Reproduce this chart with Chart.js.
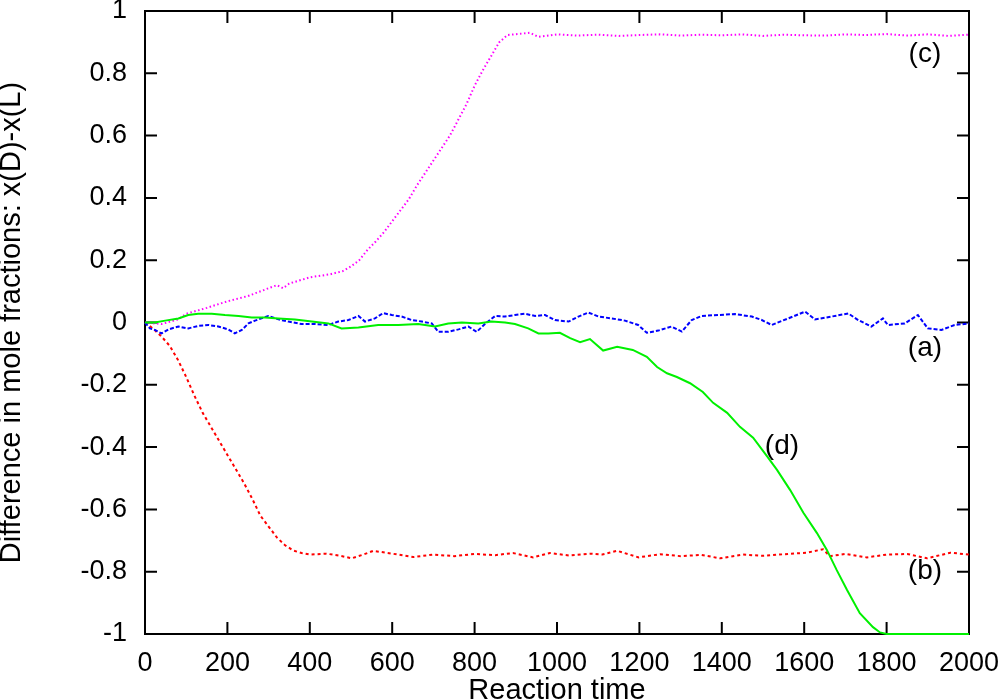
<!DOCTYPE html>
<html>
<head>
<meta charset="utf-8">
<script src="https://cdn.jsdelivr.net/npm/chart.js@4"></script>
<style>
  body { margin: 0; background: #fff; }
  #wrap { width: 1000px; height: 700px; }
</style>
</head>
<body>
<div id="wrap"><canvas id="mole-chart" width="1000" height="700"></canvas></div>
<script>
//================================ DATA ================================

// (a) blue
var time_a = [0,12,24,40,57,81,105,129,154,178,202,218,235,251,267,299,324,348,380,413,445,469,494,518,534,558,578,599,623,647,672,696,712,736,761,785,805,825,850,874,898,922,947,971,995,1028,1052,1076,1101,1133,1165,1197,1218,1246,1278,1303,1327,1351,1391,1432,1473,1497,1521,1561,1602,1626,1666,1707,1731,1763,1791,1803,1844,1876,1900,1933,1965,2000];
var diff_a = [0,-0.019,-0.024,-0.035,-0.022,-0.013,-0.019,-0.011,-0.008,-0.013,-0.022,-0.035,-0.024,-0.003,0.006,0.021,0.010,0.003,-0.005,-0.005,-0.008,0.003,0.008,0.021,0.003,0.013,0.030,0.024,0.019,0.008,0.003,-0.003,-0.030,-0.030,-0.022,-0.013,-0.030,-0.005,0.021,0.019,0.024,0.028,0.021,0.024,0.008,0.003,0.019,0.032,0.019,0.013,0.006,-0.008,-0.033,-0.026,-0.013,-0.029,0.008,0.021,0.024,0.027,0.019,0.008,-0.008,0.013,0.035,0.010,0.019,0.029,0.008,-0.013,0.013,-0.008,-0.003,0.024,-0.019,-0.024,-0.008,-0.003];

// (b) red
var time_b = [0,20,40,60,80,100,120,140,160,180,200,220,240,260,280,300,320,340,360,380,400,440,470,502,530,554,600,651,700,750,800,850,893,942,983,1030,1080,1110,1146,1198,1250,1300,1350,1396,1450,1500,1550,1606,1646,1662,1700,1752,1800,1850,1898,1955,2000];
var diff_b = [0,-0.02,-0.045,-0.075,-0.12,-0.175,-0.235,-0.29,-0.335,-0.38,-0.425,-0.47,-0.515,-0.565,-0.62,-0.655,-0.69,-0.715,-0.732,-0.74,-0.745,-0.742,-0.748,-0.757,-0.745,-0.733,-0.742,-0.753,-0.745,-0.75,-0.743,-0.747,-0.74,-0.754,-0.74,-0.748,-0.742,-0.745,-0.733,-0.754,-0.744,-0.75,-0.746,-0.757,-0.745,-0.749,-0.744,-0.739,-0.728,-0.75,-0.743,-0.754,-0.745,-0.743,-0.757,-0.739,-0.745];

// (c) magenta
var time_c = [0,40,80,100,150,200,250,300,320,335,350,400,450,480,500,520,540,560,580,600,620,640,660,680,700,720,740,760,780,800,820,840,860,880,934,955,1000,1050,1100,1150,1200,1250,1300,1350,1400,1450,1500,1550,1600,1650,1700,1750,1800,1850,1900,1950,2000];
var diff_c = [0,-0.005,0.01,0.028,0.047,0.068,0.085,0.11,0.12,0.11,0.125,0.145,0.155,0.165,0.18,0.2,0.233,0.26,0.29,0.325,0.36,0.395,0.44,0.48,0.52,0.56,0.6,0.65,0.7,0.76,0.81,0.855,0.9,0.923,0.93,0.917,0.925,0.921,0.924,0.92,0.923,0.925,0.921,0.924,0.922,0.925,0.92,0.924,0.922,0.921,0.925,0.923,0.926,0.921,0.925,0.92,0.924];

// (d) green
var time_d = [0,24,49,81,105,129,162,194,227,259,291,324,364,405,445,477,518,566,615,663,704,736,769,809,841,874,898,930,955,979,1007,1032,1056,1080,1112,1146,1184,1218,1243,1267,1291,1323,1354,1379,1413,1444,1476,1510,1534,1566,1598,1631,1655,1679,1704,1735,1767,1784,1800,2000];
var diff_d = [0,0,0.006,0.013,0.024,0.028,0.028,0.024,0.021,0.016,0.016,0.013,0.01,0.003,-0.003,-0.019,-0.016,-0.008,-0.008,-0.005,-0.013,-0.003,0,-0.003,0.003,0,-0.005,-0.019,-0.035,-0.035,-0.033,-0.05,-0.063,-0.053,-0.09,-0.078,-0.088,-0.11,-0.143,-0.163,-0.175,-0.195,-0.223,-0.258,-0.29,-0.335,-0.37,-0.43,-0.473,-0.538,-0.611,-0.676,-0.73,-0.795,-0.859,-0.933,-0.978,-0.995,-1,-1];

// curve tags, placed in data coordinates
var tag_text = ["(a)", "(b)", "(c)", "(d)"];
var tag_time = [1893, 1893, 1893, 1546];
var tag_diff = [-0.082, -0.798, 0.862, -0.397];

//================================ HELPERS ================================

function toPoints(times, values) {
  return times.map(function (t, i) { return {x: t, y: values[i]}; });
}

var FONT = '"Liberation Sans", Arial, Helvetica, sans-serif';
Chart.defaults.font.family = FONT;
Chart.defaults.color = '#000';

// gnuplot style frame: box + inward ticks on all four sides, plus curve tags
var gnuFrame = {
  id: 'gnuFrame',
  beforeDatasetsDraw: function (chart) {
    var ctx = chart.ctx, a = chart.chartArea, x = chart.scales.x, y = chart.scales.y;
    var len = 12;
    ctx.save();
    ctx.strokeStyle = '#000';
    ctx.lineWidth = 2;
    ctx.beginPath();
    x.ticks.forEach(function (t) {
      var px = x.getPixelForValue(t.value);
      ctx.moveTo(px, a.bottom); ctx.lineTo(px, a.bottom - len);
      ctx.moveTo(px, a.top); ctx.lineTo(px, a.top + len);
    });
    y.ticks.forEach(function (t) {
      var py = y.getPixelForValue(t.value);
      ctx.moveTo(a.left, py); ctx.lineTo(a.left + len, py);
      ctx.moveTo(a.right, py); ctx.lineTo(a.right - len, py);
    });
    ctx.stroke();
    ctx.strokeRect(a.left, a.top, a.right - a.left, a.bottom - a.top);
    ctx.restore();
  },
  afterDatasetsDraw: function (chart) {
    var ctx = chart.ctx, x = chart.scales.x, y = chart.scales.y;
    ctx.save();
    ctx.fillStyle = '#000';
    ctx.font = '28px ' + FONT;
    ctx.textAlign = 'center';
    ctx.textBaseline = 'middle';
    for (var i = 0; i < tag_text.length; i++) {
      ctx.fillText(tag_text[i], x.getPixelForValue(tag_time[i]), y.getPixelForValue(tag_diff[i]));
    }
    ctx.restore();
  }
};

// invisible tick marks give the label offset without adding layout padding
var hiddenTicks = function (len) {
  return { display: true, drawOnChartArea: false, drawTicks: true, tickLength: len, tickColor: 'rgba(0,0,0,0)' };
};

//================================ CHART ================================

new Chart(document.getElementById('mole-chart'), {
  type: 'line',
  data: {
    datasets: [{
        data: toPoints(time_d, diff_d),
        borderColor: '#00f000',
        borderWidth: 2,
        clip: 4
      }, {
        data: toPoints(time_a, diff_a),
        borderColor: '#0000ff',
        borderWidth: 2,
        borderDash: [4, 2],
        clip: 4
      }, {
        data: toPoints(time_b, diff_b),
        borderColor: '#ff0000',
        borderWidth: 2,
        borderDash: [3, 3],
        clip: 4
      }, {
        data: toPoints(time_c, diff_c),
        borderColor: '#ff00ff',
        borderWidth: 2,
        borderDash: [1.5, 2.5],
        clip: 4
      }
    ]
  },
  options: {
    responsive: false,
    devicePixelRatio: 1,
    animation: false,
    elements: {
      point: { radius: 0 },
      line: { tension: 0, fill: false }
    },
    layout: { padding: { top: 11, right: 31, left: 0, bottom: 0 } },
    plugins: {
      legend: { display: false },
      tooltip: { enabled: false }
    },
    scales: {
      x: {
        type: 'linear',
        min: 0,
        max: 2000,
        grid: hiddenTicks(13),
        border: { display: false },
        ticks: {
          stepSize: 200,
          autoSkip: false,
          maxRotation: 0,
          padding: 0,
          font: { size: 27 },
          callback: function (v) { return String(v); }
        },
        title: {
          display: true,
          text: 'Reaction time',
          font: { size: 29, lineHeight: 0.63 },
          padding: 0
        },
        afterFit: function (s) { s.height = 66; }
      },
      y: {
        type: 'linear',
        min: -1,
        max: 1,
        grid: hiddenTicks(18),
        border: { display: false },
        ticks: {
          stepSize: 0.2,
          padding: 0,
          font: { size: 27, lineHeight: 0.8 },
          callback: function (v) { return String(Math.round(v * 10) / 10); }
        },
        title: {
          display: true,
          text: 'Difference in mole fractions: x(D)-x(L)',
          font: { size: 29, lineHeight: 0.83 },
          padding: 0
        },
        afterFit: function (s) { s.width = 145; }
      }
    }
  },
  plugins: [gnuFrame]
});
</script>
</body>
</html>
